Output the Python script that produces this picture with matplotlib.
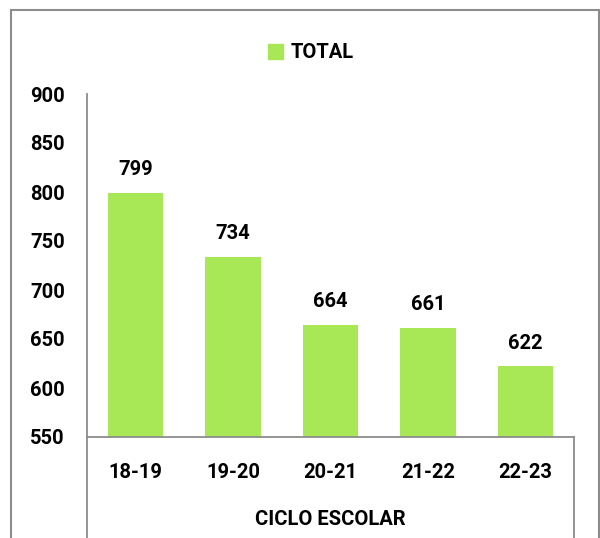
import matplotlib
matplotlib.use("Agg")
import matplotlib.pyplot as plt
from matplotlib.patches import Rectangle

categories = ["18-19", "19-20", "20-21", "21-22", "22-23"]
values = [799, 734, 664, 661, 622]
series_name = "TOTAL"
x_title = "CICLO ESCOLAR"
y_ticks = [550, 600, 650, 700, 750, 800, 850, 900]

plt.rcParams['font.family'] = ['Roboto', 'DejaVu Sans']
plt.rcParams['font.weight'] = 'bold'
FS = 14.5

green = "#A8E857"
fig = plt.figure(figsize=(6.0, 5.38), dpi=100)
ax = fig.add_axes([87/600, 1-437/538, (574-87)/600, (437-94)/538])

x = list(range(len(categories)))
ax.bar(x, values, width=0.57, color=green, label=series_name, zorder=2)
ax.set_xlim(-0.5, len(categories)-0.5)
ax.set_ylim(550, 900)
ax.set_yticks(y_ticks)
ax.set_yticklabels([str(t) for t in y_ticks], fontsize=FS, fontweight='bold')
ax.set_xticks(x)
ax.set_xticklabels(categories, fontsize=FS, fontweight='bold')
ax.tick_params(axis='y', length=0, pad=16)
ax.tick_params(axis='x', length=0, pad=19)

for s in ['top', 'right']:
    ax.spines[s].set_visible(False)
for s in ['left', 'bottom']:
    ax.spines[s].set_color('#8c8c8c')
    ax.spines[s].set_linewidth(1.3)

for xi, v in zip(x, values):
    ax.annotate(str(v), (xi, v), xytext=(0, 10), textcoords='offset points',
                ha='center', va='bottom', fontsize=FS, fontweight='bold')

for xv in [-0.5, len(categories)-0.5]:
    ax.plot([xv, xv], [550, 550 - 0.35*350], color='#8c8c8c', lw=1.3,
            clip_on=False, zorder=3)

ax.set_xlabel(x_title, fontsize=FS, fontweight='bold', labelpad=20)

fig.legend(handles=[Rectangle((0, 0), 1, 1, color=green)], labels=[series_name],
           loc='center', bbox_to_anchor=(311/600, 1-53/538), frameon=False,
           handlelength=0.75, handleheight=0.75, handletextpad=0.4,
           prop={'size': FS, 'weight': 'bold'})

fig.patches.append(Rectangle((11/600, -0.05), (599-11)/600, 1.05-10/538,
                             transform=fig.transFigure, fill=False,
                             edgecolor='#8c8c8c', lw=1.5))

fig.savefig("out.png", dpi=100)
